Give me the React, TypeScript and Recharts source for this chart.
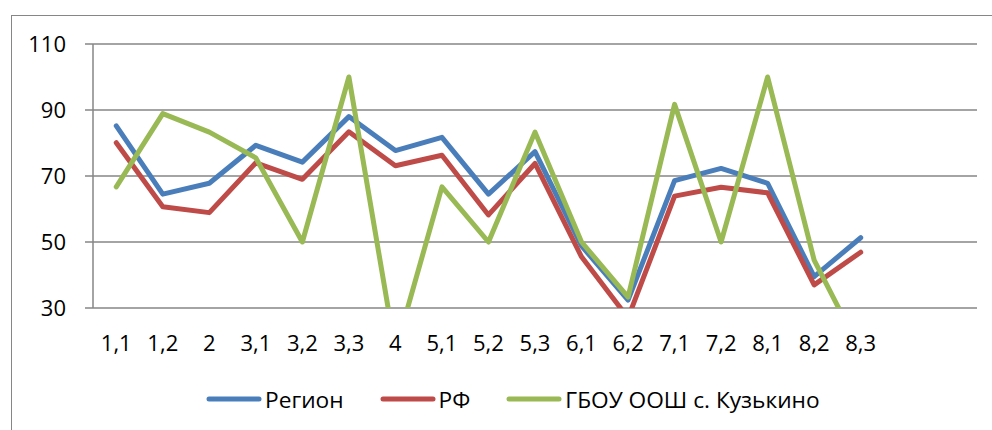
import React from 'react';
import { LineChart, Line, XAxis, YAxis, CartesianGrid, Legend } from 'recharts';

const categories = ['1,1', '1,2', '2', '3,1', '3,2', '3,3', '4', '5,1', '5,2', '5,3', '6,1', '6,2', '7,1', '7,2', '8,1', '8,2', '8,3', ' ', '  '];
const regionValues = [85.2, 64.5, 67.8, 79.3, 74.2, 88, 77.7, 81.7, 64.5, 77.4, 48.8, 32.4, 68.6, 72.3, 67.8, 39.5, 51.3, null, null];
const rfValues = [80.1, 60.7, 58.9, 74, 69, 83.4, 73.1, 76.3, 58.2, 73.8, 45.5, 27, 63.9, 66.6, 64.9, 37, 46.9, null, null];
const schoolValues = [66.7, 88.9, 83.3, 75.5, 50, 100, 17, 66.7, 50, 83.3, 50, 33.3, 91.7, 50, 100, 44.5, 17, null, null];
const yTicks = [30, 50, 70, 90, 110];
const boundaryTicks = [0, 1, 2, 3, 4, 5, 6, 7, 8, 9, 10, 11, 12, 13, 14, 15, 16, 17, 18, 19];

const series = [
  { key: 'region', name: 'Регион', color: '#4A7EBB' },
  { key: 'rf', name: 'РФ', color: '#BE4B48' },
  { key: 'school', name: 'ГБОУ ООШ с. Кузькино', color: '#98B954' },
];

const data = categories.map((cat, i) => ({
  cat,
  region: regionValues[i],
  rf: rfValues[i],
  school: schoolValues[i],
}));

const FONT = "'Open Sans', sans-serif";
const AXIS = '#868686';

const LegendContent = () => (
  <div style={{ display: 'flex', alignItems: 'center', height: 62, paddingLeft: 205, fontFamily: FONT, fontSize: 22.7, color: '#000' }}>
    {series.map((s) => (
      <div key={s.key} style={{ display: 'flex', alignItems: 'center', marginRight: 35 }}>
        <svg width={58} height={10}>
          <line x1={4} y1={5} x2={54} y2={5} stroke={s.color} strokeWidth={5} strokeLinecap="round" />
        </svg>
        <span style={{ marginLeft: 2 }}>{s.name}</span>
      </div>
    ))}
  </div>
);

export default function App() {
  return (
    <div style={{ position: 'absolute', left: 0, top: 0, width: 992, height: 430, overflow: 'hidden', background: '#fff' }}>
      <div style={{ position: 'absolute', left: 11, top: 15, width: 1100, height: 600, borderTop: `1px solid ${AXIS}`, borderLeft: `1px solid ${AXIS}` }} />
      <div style={{ position: 'absolute', left: 0, top: 0 }}>
        <LineChart width={992} height={430} data={data} margin={{ top: 44, right: 15, left: 0, bottom: 0 }}>
          <CartesianGrid xAxisId="cat" horizontal vertical={false} stroke={AXIS} strokeWidth={1.5} />
          <XAxis
            xAxisId="edges"
            type="number"
            domain={[0, 19]}
            ticks={boundaryTicks}
            allowDataOverflow
            height={0}
            tick={() => <g />}
            tickLine={{ stroke: AXIS, strokeWidth: 1.5 }}
            tickSize={8}
            axisLine={{ stroke: AXIS, strokeWidth: 1.5 }}
          />
          <XAxis
            xAxisId="cat"
            dataKey="cat"
            scale="band"
            height={60}
            interval={0}
            axisLine={false}
            tickLine={false}
            tickSize={0}
            tickMargin={27}
            tick={{ fontFamily: FONT, fontSize: 22, fill: '#000' }}
          />
          <YAxis
            domain={[30, 110]}
            ticks={yTicks}
            allowDataOverflow
            width={93}
            tickSize={8}
            tickMargin={19}
            tickLine={{ stroke: AXIS, strokeWidth: 1.5 }}
            axisLine={{ stroke: AXIS, strokeWidth: 1.5 }}
            tick={{ fontFamily: FONT, fontSize: 22, fill: '#000' }}
          />
          <Legend verticalAlign="bottom" content={<LegendContent />} wrapperStyle={{ height: 62 }} />
          {series.map((s) => (
            <Line
              key={s.key}
              xAxisId="cat"
              type="linear"
              dataKey={s.key}
              name={s.name}
              stroke={s.color}
              strokeWidth={5}
              dot={false}
              strokeLinejoin="round"
              strokeLinecap="round"
              isAnimationActive={false}
            />
          ))}
        </LineChart>
      </div>
    </div>
  );
}
